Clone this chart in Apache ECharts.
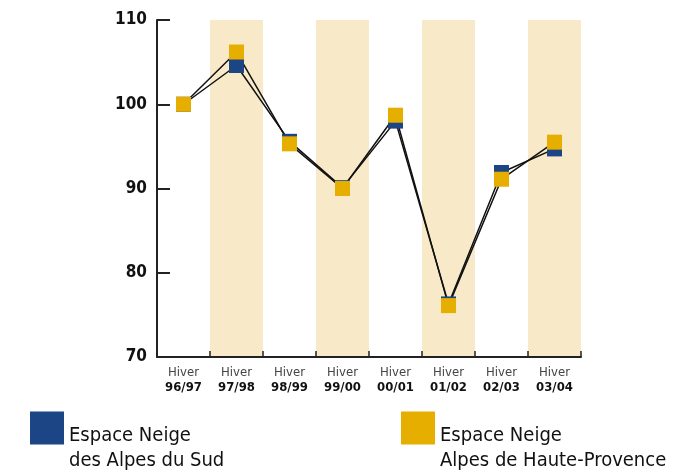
<!DOCTYPE html>
<html><head><meta charset="utf-8">
<script src="https://cdn.jsdelivr.net/npm/echarts@6/dist/echarts.min.js"></script>
<style>html,body{margin:0;padding:0;background:#fff}#c{width:673px;height:470px}</style>
</head><body><div id="c"></div>
<script>
const categories = ['96/97','97/98','98/99','99/00','00/01','01/02','02/03','03/04'];
const seriesSud = [100, 104.6, 95.6, 90.1, 98.0, 76.3, 91.9, 94.7];
const seriesAHP = [100, 106.2, 95.3, 90.0, 98.7, 76.1, 91.1, 95.5];
const yTicks = [70, 80, 90, 100, 110];
const nameSud = 'Espace Neige\ndes Alpes du Sud';
const nameAHP = 'Espace Neige\nAlpes de Haute-Provence';
const FONT = '"Liberation Sans Narrow", "DejaVu Sans Condensed", sans-serif';
const blue = '#1B4585', yellow = '#E6AF00';

const chart = echarts.init(document.getElementById('c'));
const legendBase = {
  top: 398, icon: 'rect', itemWidth: 34, itemHeight: 33, itemGap: 4, padding: 0,
  formatter: n => '{e| }\n' + n.split('\n').map(s => '{t|' + s + '}').join('\n'),
  textStyle: {
    fontFamily: FONT, fontSize: 20, color: '#111',
    rich: {
      e: {fontSize: 10, lineHeight: 40},
      t: {fontFamily: FONT, fontSize: 20, color: '#111', lineHeight: 25}
    }
  },
  selectedMode: false
};
chart.setOption({
  animation: false,
  legend: [
    Object.assign({}, legendBase, {left: 30, data: [nameSud]}),
    Object.assign({}, legendBase, {left: 401, data: [nameAHP]})
  ],
  grid: {left: 157, right: 92, top: 20, bottom: 113},
  xAxis: {
    type: 'category', data: categories, boundaryGap: true,
    axisLine: {lineStyle: {color: '#222', width: 2}},
    axisTick: {show: true, inside: true, length: 6, lineStyle: {color: '#222', width: 1.5}},
    axisLabel: {
      interval: 0, margin: 8,
      formatter: v => '{a|Hiver}\n{b|' + v + '}',
      rich: {
        a: {fontFamily: FONT, fontSize: 13, color: '#444', lineHeight: 15, align: 'center'},
        b: {fontFamily: FONT, fontSize: 13, fontWeight: 'bold', color: '#111', lineHeight: 15, align: 'center'}
      }
    },
    splitArea: {show: true, areaStyle: {color: ['rgba(255,255,255,0)', '#F8EAC8']}},
    splitLine: {show: false}
  },
  yAxis: {
    type: 'value', min: yTicks[0], max: yTicks[yTicks.length - 1], interval: 10,
    axisLine: {show: true, lineStyle: {color: '#222', width: 2}},
    axisTick: {show: true, inside: true, length: 13, lineStyle: {color: '#222', width: 2}},
    axisLabel: {fontFamily: FONT, fontSize: 17, fontWeight: 'bold', color: '#111', margin: 10},
    splitLine: {show: false}
  },
  series: [
    {type: 'line', data: seriesSud, symbol: 'none', z: 2, lineStyle: {color: '#111', width: 1.5}, silent: true},
    {type: 'line', data: seriesAHP, symbol: 'none', z: 2, lineStyle: {color: '#111', width: 1.5}, silent: true},
    {type: 'scatter', name: nameSud, data: seriesSud, symbol: 'rect', symbolSize: 15, z: 3, itemStyle: {color: blue, opacity: 1}},
    {type: 'scatter', name: nameAHP, data: seriesAHP, symbol: 'rect', symbolSize: 15, z: 4, itemStyle: {color: yellow, opacity: 1}}
  ]
});
</script></body></html>
